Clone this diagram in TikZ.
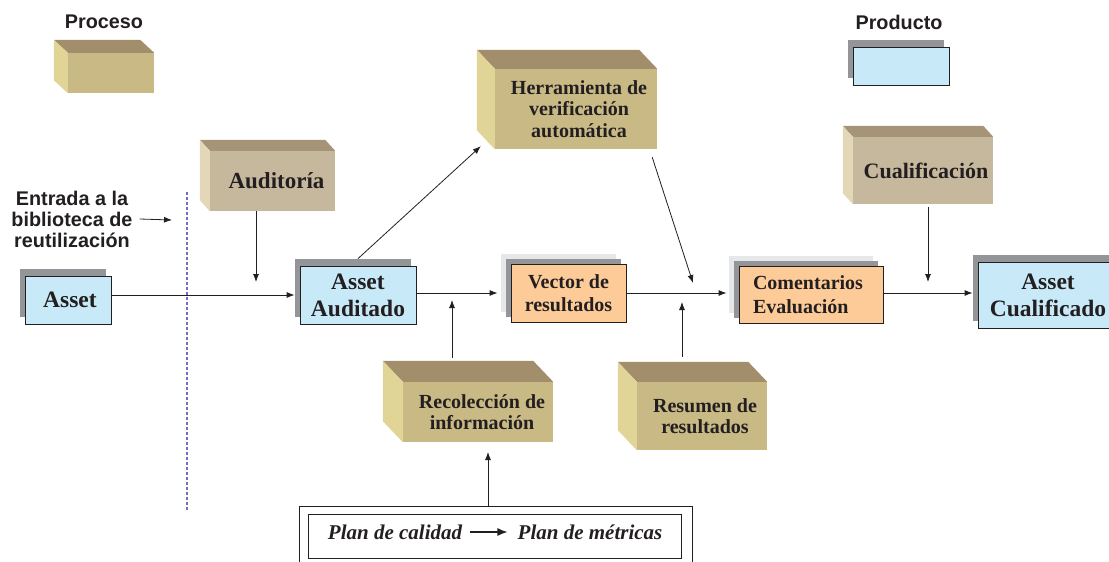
\documentclass[tikz,border=0pt]{standalone}
\usepackage{fontspec}
\setmainfont{Liberation Serif}
\newfontfamily\lsans{Liberation Sans}
\usetikzlibrary{calc,shadows,arrows.meta}
\definecolor{tanF}{HTML}{C8B985}
\definecolor{tanT}{HTML}{A38E6B}
\definecolor{tanS}{HTML}{E1D497}
\definecolor{grF}{HTML}{C6B89C}
\definecolor{grT}{HTML}{A69479}
\definecolor{grS}{HTML}{E3D7B7}
\definecolor{blueF}{HTML}{C8EAF8}
\definecolor{orF}{HTML}{FDCB98}
\definecolor{shD}{HTML}{939598}
\definecolor{shL}{HTML}{E6E7E8}
\definecolor{ink}{HTML}{231F20}
\definecolor{dashblue}{HTML}{6E6EC4}
\newcommand\mycube[5]{%
  \fill[#4] (#1.north west) -- (#1.north east) -- ($(#1.north east)+(-#2,-#3)$) -- ($(#1.north west)+(-#2,-#3)$) -- cycle;
  \fill[#5] (#1.north west) -- ($(#1.north west)+(-#2,-#3)$) -- ($(#1.south west)+(-#2,-#3)$) -- (#1.south west) -- cycle;
}
\begin{document}
\begin{tikzpicture}[x=1pt,y=-1pt,
  cubebox/.style={inner sep=0pt, align=center, text=ink, font=\bfseries\fontsize{20}{21.5}\selectfont},
  tancube/.style={cubebox, fill=tanF},
  graycube/.style={cubebox, fill=grF},
  prodbox/.style={draw=ink, line width=0.8pt, fill=blueF, inner sep=0pt, align=center, text=ink,
    font=\bfseries\fontsize{23.5}{27}\selectfont,
    drop shadow={shadow xshift=-5pt, shadow yshift=7pt, fill=shD, opacity=1}},
  resbox/.style={draw=ink, line width=0.8pt, fill=orF, inner sep=0pt, text=ink,
    font=\bfseries\fontsize{20}{23.5}\selectfont,
    drop shadow={shadow xshift=-10pt, shadow yshift=10pt, fill=shL, opacity=1},
    drop shadow={shadow xshift=-5pt, shadow yshift=5pt, fill=shD, opacity=1}},
  lab/.style={inner sep=0pt, text=ink, font=\lsans\bfseries\fontsize{19.8}{21}\selectfont},
  arr/.style={draw=ink, line width=0.8pt, -{Latex[length=8pt,width=6pt]}},
  plantxt/.style={inner sep=0pt, text=ink, font=\bfseries\itshape\fontsize{21}{24}\selectfont},
  frame/.style={draw=ink, line width=0.9pt, inner sep=0pt}
]
\useasboundingbox (0,0) rectangle (1109,562);

% legend
\node[lab] (proceso) at (104,22) {Proceso};
\node[tancube, minimum width=86pt, minimum height=40pt] (legproc) at (111,73) {};
\mycube{legproc}{14}{13}{tanT}{tanS}
\node[lab] (producto) at (899,22) {Producto};
\node[prodbox, minimum width=96pt, minimum height=38pt] (legprod) at (901,66) {};

% entrada
\node[lab, align=center] (entrada) at (72,219) {Entrada a la\\biblioteca de\\reutilización};
\coordinate (j0) at (172,220);
\draw[arr] ([xshift=7pt]entrada.east) -- (j0);
\coordinate (dtop) at (187,192);
\coordinate (dbot) at (187,510);
\draw[dashblue, line width=1.1pt, dash pattern=on 3pt off 2pt] (dtop) -- (dbot);

% process cubes
\node[graycube, minimum width=125pt, minimum height=60pt, font=\bfseries\fontsize{23}{26}\selectfont] (aud) at (272.5,181) {\hspace*{8pt}Auditoría};
\mycube{aud}{10}{11}{grT}{grS}
\node[tancube, minimum width=162pt, minimum height=80pt] (herr) at (576,109) {\hspace*{6pt}Herramienta de\\\hspace*{6pt}verificación\\\hspace*{6pt}automática};
\mycube{herr}{18}{19}{tanT}{tanS}
\node[graycube, minimum width=140pt, minimum height=67pt, font=\bfseries\fontsize{22}{25}\selectfont] (cualif) at (923,170.5) {\hspace*{6pt}Cualificación};
\mycube{cualif}{10}{11}{grT}{grS}
\node[tancube, minimum width=150pt, minimum height=60pt] (reco) at (478,412) {\hspace*{8pt}Recolección de\\\hspace*{8pt}información};
\mycube{reco}{20}{21}{tanT}{tanS}
\node[tancube, minimum width=130pt, minimum height=68pt] (resu) at (702,416) {\hspace*{6pt}Resumen de\\\hspace*{6pt}resultados};
\mycube{resu}{19}{20}{tanT}{tanS}

% product / result boxes
\node[prodbox, minimum width=86pt, minimum height=48pt] (asset) at (68,300) {\hspace*{4pt}Asset};
\node[prodbox, minimum width=116pt, minimum height=58pt] (aa) at (358,295) {Asset\\Auditado};
\node[prodbox, minimum width=140pt, minimum height=66pt] (ac) at (1048,295) {Asset\\Cualificado};
\node[resbox, minimum width=115pt, minimum height=58pt, align=center] (vec) at (568.5,293) {Vector de\\resultados};
\node[resbox, minimum width=144pt, minimum height=57pt, align=left] (com) at (811,294.5) {Comentarios\hspace*{6pt}\\Evaluación};

% plan
\node[frame, minimum width=393pt, minimum height=69pt] (planout) at (495.5,540.5) {};
\node[frame, minimum width=373pt, minimum height=44pt] (planin) at (494.5,536) {};
\node[plantxt] (p1) at (395,532) {Plan de calidad};
\node[plantxt] (p2) at (590,532) {Plan de métricas};
\draw[draw=ink, line width=1.3pt, -{Latex[length=10pt,width=8pt]}] ([xshift=8pt]p1.east) -- ([xshift=-10pt]p2.west);

% connectors
\draw[arr] (asset.east |- aa.west) -- ([xshift=-5pt]aa.west);
\coordinate (j1) at (256,282);
\draw[arr] (aud.south -| j1) -- (j1);
\draw[arr] ([yshift=7pt]aa.north) -- ($(herr.south west)+(-14,-3)$);
\coordinate (j2) at (693,283);
\draw[arr] ($(herr.south east)+(-5,8)$) -- (j2);
\draw[arr] (aa.east |- vec.west) -- ([xshift=-13pt]vec.west);
\coordinate (j3) at (452,300);
\draw[arr] ($(reco.north -| j3)+(0,-24)$) -- (j3);
\draw[arr] (vec.east) -- ([xshift=-12pt]com.west |- vec.east);
\coordinate (j4) at (682,302);
\draw[arr] ($(resu.north -| j4)+(0,-25)$) -- (j4);
\draw[arr] (com.east |- vec.east) -- ([xshift=-5pt]ac.west |- vec.east);
\coordinate (j5) at (928,282);
\draw[arr] ([yshift=-3pt]cualif.south -| j5) -- (j5);
\coordinate (j6) at (488,452);
\draw[arr] (planout.north -| j6) -- (j6);
\end{tikzpicture}
\end{document}
